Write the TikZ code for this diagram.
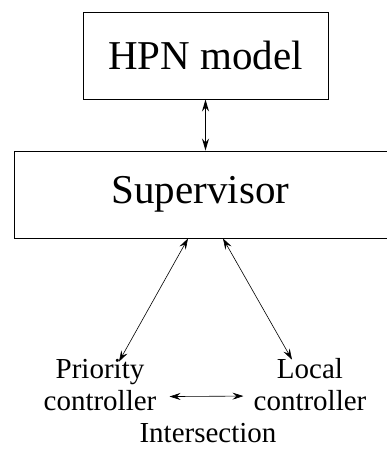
\documentclass[tikz,border=0pt]{standalone}
\usepackage{fontspec}
\setmainfont{Liberation Serif}
\usetikzlibrary{arrows.meta}
\begin{document}
\begin{tikzpicture}[x=1pt,y=-1pt,
  boxnode/.style={draw,line width=0.9pt,inner sep=0pt},
  bigtext/.style={font=\fontsize{41}{45}\selectfont},
  smalltext/.style={font=\fontsize{29}{32}\selectfont,inner sep=0pt,align=center},
  thick link/.style={line width=1.4pt,{Stealth[length=12pt,width=7pt,inset=4pt]}-{Stealth[length=12pt,width=7pt,inset=4pt]}},
  thin link/.style={line width=0.6pt,{Stealth[length=11pt,width=7pt,inset=4pt]}-{Stealth[length=11pt,width=7pt,inset=4pt]}}]
\useasboundingbox (0,0) rectangle (386,452);
\node[boxnode,bigtext,minimum width=245pt,minimum height=87pt] (hpn) at (205.5,55.5) {HPN model};
\node[boxnode,bigtext,minimum width=373pt,minimum height=87pt] (sup) at (200.5,194.5) {Supervisor};
\node[smalltext,anchor=base] (pc) at (100,410) {Priority\\controller};
\node[smalltext,anchor=base] (lc) at (310,410) {Local\\controller};
\node[smalltext,anchor=base] (int) at (208,442) {Intersection};
\draw[thick link] (hpn.south) -- (hpn.south |- sup.north);
\draw[thin link] ([xshift=-12.5pt]sup.south) -- ([shift={(19pt,-3pt)}]pc.north);
\draw[thin link] ([xshift=22.5pt]sup.south) -- ([shift={(-18pt,-2pt)}]lc.north);
\draw[thin link] ([shift={(13pt,-12pt)}]pc.east) -- ([shift={(-10pt,-12pt)}]lc.west);
\end{tikzpicture}
\end{document}
